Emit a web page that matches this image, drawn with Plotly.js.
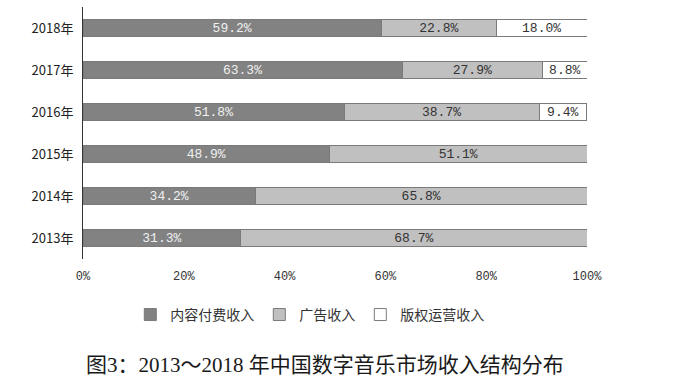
<!DOCTYPE html>
<html><head><meta charset="utf-8">
<script src="https://cdn.plot.ly/plotly-3.0.1.min.js"></script>
<style>html,body{margin:0;padding:0;background:#fff}</style>
</head><body>
<div id="chart" style="width:676px;height:391px"></div>
<script>
const years = ["2013年","2014年","2015年","2016年","2017年","2018年"];
const contentPaid = [31.3, 34.2, 48.9, 51.8, 63.3, 59.2];
const advertising = [68.7, 65.8, 51.1, 38.7, 27.9, 22.8];
const copyright = [0, 0, 0, 9.4, 8.8, 18.0];
const seriesNames = ["内容付费收入", "广告收入", "版权运营收入"];
const tickVals = [0, 20, 40, 60, 80, 100];
const tickText = ["0%", "20%", "40%", "60%", "80%", "100%"];
const chartTitle = "图3：2013～2018 年中国数字音乐市场收入结构分布";

const lbl = arr => arr.map(v => v > 0 ? v.toFixed(1) + "%" : "");
const mono = "'Liberation Mono', 'DejaVu Sans Mono', monospace";
function tr(name, vals, color, txtColor) {
  return {
    type: "bar", orientation: "h", name: name, y: years, x: vals,
    text: lbl(vals), textposition: "inside", insidetextanchor: "middle",
    constraintext: "none",
    textfont: {family: mono, size: 13, color: txtColor},
    marker: {color: color, line: {color: "#7a7a7a", width: 1}},
    width: 0.4, hoverinfo: "skip"
  };
}
const data = [
  tr(seriesNames[0], contentPaid, "#828282", "#f0f0f0"),
  tr(seriesNames[1], advertising, "#c0c0c0", "#333333"),
  tr(seriesNames[2], copyright, "#ffffff", "#333333")
];
const layout = {
  width: 676, height: 391,
  margin: {l: 83, r: 89, t: 7, b: 132},
  barmode: "stack",
  paper_bgcolor: "#fff", plot_bgcolor: "#fff",
  showlegend: true,
  legend: {orientation: "h", x: 0.45, xanchor: "center", y: -0.222, yanchor: "middle",
    font: {family: "'Noto Sans CJK SC', sans-serif", size: 14, color: "#333"},
    itemwidth: 30, traceorder: "normal"},
  xaxis: {range: [0, 100], tickvals: tickVals, ticktext: tickText, showgrid: false,
    zeroline: false, showline: false, ticks: "",
    tickfont: {family: mono, size: 12, color: "#333"}, ticklabelstandoff: 8, fixedrange: true},
  yaxis: {showgrid: false, zeroline: false, showline: true, linecolor: "#333", linewidth: 1,
    ticks: "", tickfont: {family: "'Noto Sans CJK SC', sans-serif", size: 13, color: "#222"},
    ticklabelstandoff: 6, fixedrange: true},
  annotations: [{text: chartTitle, xref: "paper", yref: "paper", x: 0.48, xanchor: "center",
    y: (259 - 365) / 252, yanchor: "middle", showarrow: false,
    font: {family: "'Liberation Serif', 'Noto Sans CJK SC', serif", size: 21, color: "#1a1a1a"}}]
};
Plotly.newPlot("chart", data, layout, {displayModeBar: false, staticPlot: true});
</script>
</body></html>
